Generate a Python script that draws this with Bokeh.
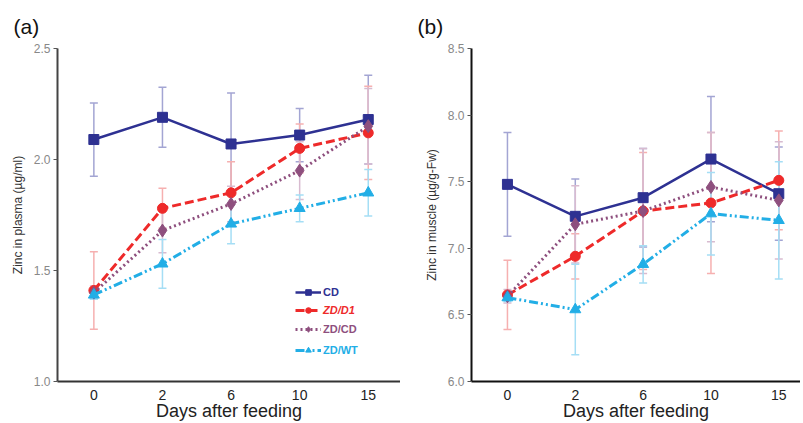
from bokeh.plotting import figure
from bokeh.models import ColumnDataSource, Whisker, TeeHead, Legend, LegendItem, Range1d, FixedTicker
from bokeh.layouts import row
from bokeh.embed import file_html
from bokeh.resources import INLINE

# ---- data ----
days = ["0", "2", "6", "10", "15"]
series_names = ["CD", "ZD/D1", "ZD/CD", "ZD/WT"]

plasma_cd = [2.09, 2.19, 2.07, 2.11, 2.18]
plasma_cd_sd = [0.165, 0.135, 0.23, 0.12, 0.20]
plasma_d1 = [1.41, 1.78, 1.85, 2.05, 2.12]
plasma_d1_sd = [0.175, 0.09, 0.14, 0.11, 0.21]
plasma_zcd = [1.40, 1.68, 1.80, 1.95, 2.15]
plasma_zcd_sd = [0.03, 0.10, 0.08, 0.13, 0.17]
plasma_wt = [1.39, 1.53, 1.71, 1.78, 1.85]
plasma_wt_sd = [0.02, 0.11, 0.09, 0.06, 0.105]

muscle_cd = [7.48, 7.24, 7.38, 7.67, 7.41]
muscle_cd_sd = [0.39, 0.28, 0.37, 0.47, 0.35]
muscle_d1 = [6.65, 6.94, 7.28, 7.34, 7.51]
muscle_d1_sd = [0.26, 0.17, 0.44, 0.53, 0.37]
muscle_zcd = [6.64, 7.18, 7.28, 7.46, 7.36]
muscle_zcd_sd = [0.05, 0.29, 0.47, 0.41, 0.44]
muscle_wt = [6.63, 6.54, 6.88, 7.26, 7.21]
muscle_wt_sd = [0.03, 0.34, 0.14, 0.31, 0.44]

plasma_ticks = [1.0, 1.5, 2.0, 2.5]
muscle_ticks = [6.0, 6.5, 7.0, 7.5, 8.0, 8.5]

styles = {
    "CD":    dict(color="#2E3192", dash="solid",       marker="square",   size=10, width=2.5, err="#A3A5D3"),
    "ZD/D1": dict(color="#EE2A2A", dash="9 4",         marker="circle",   size=10, width=3.0, err="#F6B0B0"),
    "ZD/CD": dict(color="#8E4F7E", dash="2 3",         marker="diamond",  size=13, width=3.0, err="#D8BBD0"),
    "ZD/WT": dict(color="#22AEE6", dash="9 3 2 3 2 3", marker="triangle", size=11, width=3.0, err="#A5DEF5"),
}

FONT = "Liberation Sans"
H = 423


def make_panel(title, ylabel, yrange, ticks, data, x_end, border_left, width, legend, title_left):
    p = figure(width=width, height=H, output_backend="svg", toolbar_location=None,
               x_range=Range1d(-0.53, x_end), y_range=Range1d(*yrange),
               min_border_left=border_left, min_border_right=0,
               min_border_top=48, min_border_bottom=H - 381)
    p.outline_line_color = None
    p.grid.visible = False
    p.title.text = title
    p.title.text_font = FONT
    p.title.text_font_size = "21px"
    p.title.text_font_style = "normal"
    p.title.text_color = "#111111"
    p.title.align = "left"
    p.title.offset = title_left - border_left
    p.title.standoff = 22

    items = []
    for name, (vals, sd) in zip(series_names, data):
        st = styles[name]
        xs = list(range(len(days)))
        src = ColumnDataSource(dict(x=xs, y=vals,
                                    upper=[v + s for v, s in zip(vals, sd)],
                                    lower=[v - s for v, s in zip(vals, sd)]))
        w = Whisker(source=src, base="x", upper="upper", lower="lower",
                    line_color=st["err"], line_width=1.5, level="underlay",
                    upper_head=TeeHead(size=8, line_color=st["err"], line_width=1.5),
                    lower_head=TeeHead(size=8, line_color=st["err"], line_width=1.5))
        p.add_layout(w)
        ln = p.line("x", "y", source=src, line_color=st["color"], line_width=st["width"],
                    line_dash=st["dash"])
        mk = p.scatter("x", "y", source=src, marker=st["marker"], size=st["size"],
                       fill_color=st["color"], line_color=st["color"])
        items.append((name, [ln, mk], st["color"]))

    if legend:
        ys = [82, 64, 45, 24]
        for (name, rs, col), yy in zip(items, ys):
            lg = Legend(items=[LegendItem(label=name, renderers=rs)], location=(238, yy),
                        padding=0, margin=0, spacing=0, glyph_width=26, glyph_height=14,
                        label_standoff=2, border_line_color=None, background_fill_alpha=0,
                        label_text_color=col, label_text_font=FONT, label_text_font_size="11px",
                        label_text_font_style="bold italic" if name == "ZD/D1" else "bold",
                        label_height=14)
            p.add_layout(lg)

    xa = p.xaxis[0]
    xa.ticker = FixedTicker(ticks=list(range(len(days))))
    xa.major_label_overrides = {i: d for i, d in enumerate(days)}
    xa.axis_label = "Days after feeding"
    xa.axis_label_text_font = FONT
    xa.axis_label_text_font_size = "18px"
    xa.axis_label_text_font_style = "normal"
    xa.axis_label_text_color = "#222222"
    xa.axis_label_standoff = -2
    xa.major_label_text_font = FONT
    xa.major_label_text_font_size = "14px"
    xa.major_label_text_color = "#222222"
    xa.major_label_standoff = 2
    xa.major_tick_line_color = None
    xa.minor_tick_line_color = None
    xa.axis_line_width = 2
    xa.axis_line_color = "#333333"

    ya = p.yaxis[0]
    ya.ticker = FixedTicker(ticks=ticks)
    ya.major_label_overrides = {t: f"{t:.1f}" for t in ticks}
    ya.axis_label = ylabel
    ya.axis_label_text_font = FONT
    ya.axis_label_text_font_size = "12px"
    ya.axis_label_text_font_style = "normal"
    ya.axis_label_text_color = "#333333"
    ya.axis_label_standoff = 6
    ya.major_label_text_font = FONT
    ya.major_label_text_font_size = "12px"
    ya.major_label_text_color = "#888888"
    ya.major_label_standoff = 3
    ya.major_tick_in = 0
    ya.major_tick_out = 4
    ya.major_tick_line_color = "#555555"
    ya.minor_tick_line_color = None
    ya.axis_line_width = 2
    ya.axis_line_color = "#444444"
    return p


pa = make_panel("(a)", "Zinc in plasma (µg/ml)", (1.0, 2.5), plasma_ticks,
                [(plasma_cd, plasma_cd_sd), (plasma_d1, plasma_d1_sd),
                 (plasma_zcd, plasma_zcd_sd), (plasma_wt, plasma_wt_sd)],
                x_end=4.47, border_left=57, width=400, legend=True, title_left=13)
pb = make_panel("(b)", "Zinc in muscle (µg/g-Fw)", (6.0, 8.5), muscle_ticks,
                [(muscle_cd, muscle_cd_sd), (muscle_d1, muscle_d1_sd),
                 (muscle_zcd, muscle_zcd_sd), (muscle_wt, muscle_wt_sd)],
                x_end=4.32, border_left=71, width=400, legend=False, title_left=17)
pb.yaxis[0].axis_line_color = "#111111"
pb.xaxis[0].axis_line_color = "#111111"

layout = row(pa, pb)
open("out.html", "w").write(file_html(layout, INLINE))
